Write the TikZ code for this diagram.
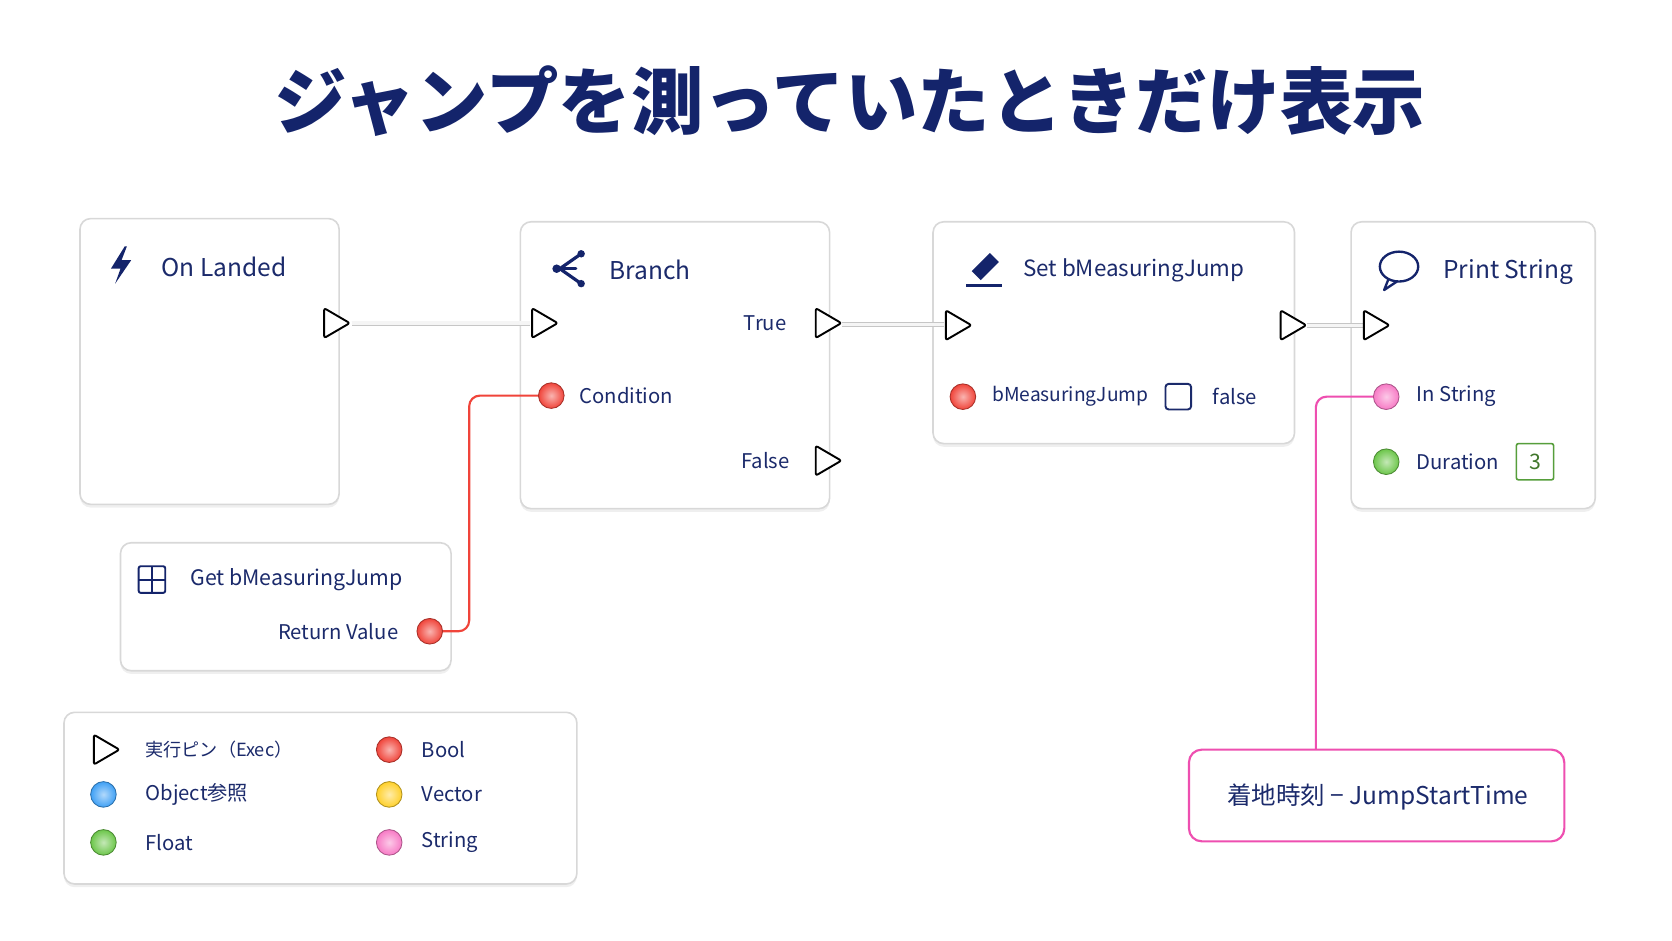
\documentclass[tikz,border=0pt]{standalone}
\usepackage{fontspec}
\setmainfont{Noto Sans CJK JP}
\usetikzlibrary{shadows,calc}
\definecolor{navy}{HTML}{14246B}
\definecolor{tx}{HTML}{1B2A6B}
\definecolor{bord}{HTML}{D8D8D8}
\definecolor{rpin}{HTML}{F0443A}
\definecolor{gpin}{HTML}{6CC64A}
\definecolor{bpin}{HTML}{3FA0F5}
\definecolor{ypin}{HTML}{FFD02A}
\definecolor{ppin}{HTML}{F77AC5}
\definecolor{pinkl}{HTML}{EE4FB0}
\begin{document}
\begin{tikzpicture}[x=1pt,y=-1pt,
  card/.style={draw=bord,line width=1.5pt,fill=white,rounded corners=10pt,drop shadow={shadow xshift=0pt,shadow yshift=-3pt,opacity=0.12}},
  ttl/.style={anchor=west,text=tx,font=\fontsize{23}{28}\selectfont},
  lbl/.style={anchor=west,text=tx,font=\fontsize{19}{24}\selectfont},
  lblr/.style={anchor=east,text=tx,font=\fontsize{19}{24}\selectfont},
  pin/.style={circle,minimum size=24pt,inner sep=0pt,draw=#1!70!black,line width=0.8pt,inner color=#1!40!white,outer color=#1},
  exec/.style={line width=0.8pt,draw=gray!45,double=gray!8,double distance=3pt}
]
\useasboundingbox (0,0) rectangle (1568,882);
\fill[white] (0,0) rectangle (1568,882);
\newcommand\execpin[1]{\draw[line width=1.8pt,line join=round,rounded corners=2pt,fill=white] ($(#1)+(-11,-14)$)--($(#1)+(13,0)$)--($(#1)+(-11,14)$)--cycle;}
\node[text=navy,font=\fontsize{68}{74}\selectfont\bfseries] (title) at (797,95) {ジャンプを測っていたときだけ表示};
% cards
\draw[card] (75,205) rectangle (318,473);
\draw[card] (488,208) rectangle (778,477);
\draw[card] (875,208) rectangle (1214,416);
\draw[card] (1267,208) rectangle (1496,477);
\draw[card] (113,509) rectangle (423,629);
\draw[card] (60,668) rectangle (541,829);
\draw[draw=pinkl,line width=2pt,rounded corners=12pt,fill=white] (1115,703) rectangle (1467,789);
\node[text=tx,font=\fontsize{23}{28}\selectfont] (expr) at (1292,747) {着地時刻 − JumpStartTime};
% coordinates
\coordinate (olo) at (315,303);
\coordinate (bri) at (510,303);
\coordinate (brt) at (776,303);
\coordinate (brf) at (776,432);
\coordinate (sti) at (898,305);
\coordinate (sto) at (1212,305);
\coordinate (psi) at (1290,305);
\coordinate (lgx) at (99,703);
% exec wires
\draw[exec] (330,303) -- (497,303);
\draw[exec] (790,304) -- (885,304);
\draw[exec] (1226,305) -- (1278,305);
% data wires
\draw[rpin,line width=2pt,rounded corners=10pt] (403,592) -- (440,592) -- (440,371) -- (517,371);
\draw[pinkl,line width=2pt,rounded corners=10pt] (1234,703) -- (1234,372) -- (1300,372);
% exec pins
\execpin{olo}\execpin{bri}\execpin{brt}\execpin{brf}\execpin{sti}\execpin{sto}\execpin{psi}\execpin{lgx}
% titles and icons
\fill[navy] (117,231) -- (104,252) -- (113,252) -- (108,266) -- (123,244) -- (114,244) -- (119,231) -- cycle;
\node[ttl] (t1) at (148,250) {On Landed};
\begin{scope}[navy,line width=3pt,line cap=round]
\draw (545,238) -- (525,252) -- (545,266); \draw (525,252)--(540,252);
\fill (545,238) circle (3.5); \fill (545,266) circle (3.5); \fill (522,252) circle (4);
\end{scope}
\node[ttl] (t2) at (568,253) {Branch};
\begin{scope}[navy]
\fill[rotate around={-45:(924,250)}] (918,238) rectangle (930,262);
\draw[line width=2.5pt] (906,268) -- (940,268);
\end{scope}
\node[ttl,font=\fontsize{21}{26}\selectfont] (t3) at (956,254) {Set bMeasuringJump};
\draw[navy,line width=2.2pt] (1312,250) ellipse (18 and 14);
\draw[navy,line width=2.2pt,line join=round] (1302,262) -- (1298,272) -- (1310,264);
\node[ttl] (t4) at (1350,255) {Print String};
\draw[navy,line width=1.8pt,rounded corners=2pt] (130,531) rectangle (155,556);
\draw[navy,line width=1.8pt] (142.5,531) -- (142.5,556) (130,543.5) -- (155,543.5);
\node[ttl,font=\fontsize{20}{26}\selectfont] (t5) at (175,544) {Get bMeasuringJump};
% labels
\node[lblr] (ltrue) at (741,303) {True};
\node[lblr] (lfalse) at (744,432) {False};
\node[pin=rpin] (pcond) at (517,371) {};
\node[lbl] (lcond) at (540,371) {Condition};
\node[pin=rpin] (pset) at (903,372) {};
\node[lbl,font=\fontsize{18}{24}\selectfont] (lset) at (927,372) {bMeasuringJump};
\draw[tx,line width=1.8pt,rounded corners=3pt] (1093,360) rectangle (1117,384);
\node[lbl] (lf) at (1134,372) {false};
\node[pin=ppin] (pstr) at (1300,372) {};
\node[lbl] (linstr) at (1325,372) {In String};
\node[pin=gpin] (pdur) at (1300,433) {};
\node[lbl] (ldur) at (1325,433) {Duration};
\draw[gpin!80!black,line width=1.5pt,rounded corners=2pt] (1422,416) rectangle (1457,450);
\node[text=gpin!60!black,font=\fontsize{20}{24}\selectfont] (three) at (1439.5,433) {3};
\node[lblr] (lret) at (377,592) {Return Value};
\node[pin=rpin] (pret) at (403,592) {};
% legend
\node[lbl,font=\fontsize{17}{22}\selectfont] at (133,703) {実行ピン（Exec）};
\node[pin=bpin] at (97,745) {};
\node[lbl] at (133,745) {Object参照};
\node[pin=gpin] at (97,790) {};
\node[lbl] at (133,790) {Float};
\node[pin=rpin] at (365,703) {};
\node[lbl] at (392,703) {Bool};
\node[pin=ypin] at (365,745) {};
\node[lbl] at (392,745) {Vector};
\node[pin=ppin] at (365,790) {};
\node[lbl] at (392,790) {String};
\end{tikzpicture}
\end{document}
